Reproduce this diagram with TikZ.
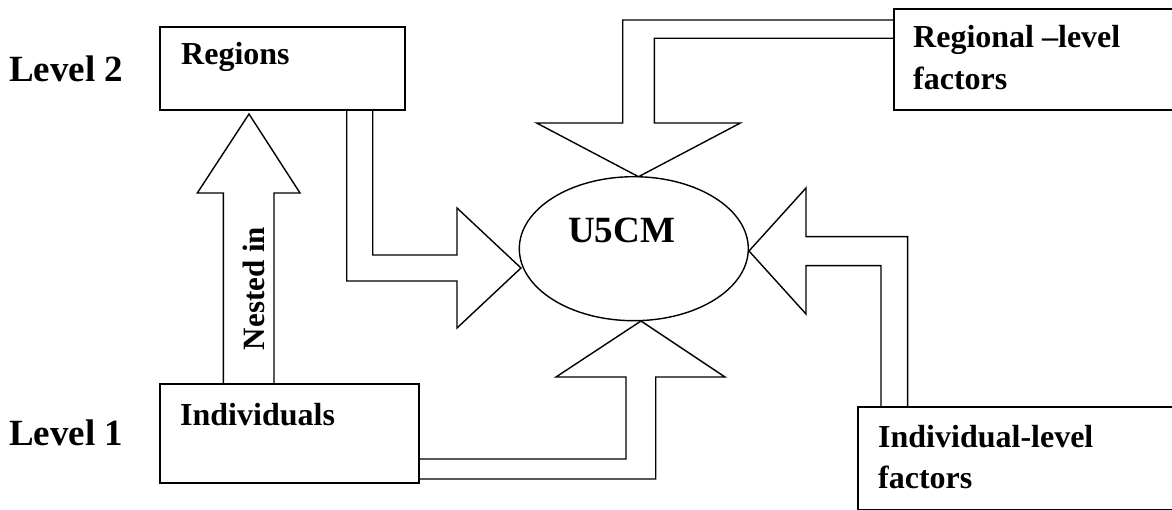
\documentclass[tikz,border=0pt]{standalone}
\usepackage{fontspec}
\setmainfont{Liberation Serif}
\usetikzlibrary{shapes.geometric}
\begin{document}
\begin{tikzpicture}[x=1pt,y=-1pt,
  boxline/.style={draw=black, line width=1.9pt, inner sep=0pt, anchor=north west},
  blockarrow/.style={draw=black, line width=1.4pt, line join=miter},
  lbl/.style={inner sep=0pt, font=\fontsize{32}{36}\selectfont\bfseries, anchor=base west},
  biglbl/.style={inner sep=0pt, font=\fontsize{37}{42}\selectfont\bfseries, anchor=base west}]
\useasboundingbox (0,0) rectangle (1172,510);
% boxes
\node[boxline, minimum width=245pt, minimum height=83pt] (regions) at (159,26) {};
\node[boxline, minimum width=259pt, minimum height=99pt] (indiv) at (159,383) {};
\node[boxline, minimum width=290pt, minimum height=101pt] (regfac) at (893,7.7) {};
\node[boxline, minimum width=320pt, minimum height=103pt] (indfac) at (857,406) {};
% ellipse
\node[draw=black, ellipse, line width=1.4pt, inner sep=0pt, minimum width=229pt, minimum height=144pt] (u5cm) at (633.8,248.7) {};
% texts
\node[biglbl] (lev2) at (9,81.7) {Level 2};
\node[biglbl] (lev1) at (9,445) {Level 1};
\node[lbl] (regionsT) at (181,65) {Regions};
\node[lbl] (indivT) at (180,425) {Individuals};
\node[lbl] (regfacT1) at (913,48) {Regional –level};
\node[lbl] (regfacT2) at (913,90) {factors};
\node[lbl] (indfacT1) at (878,447) {Individual-level};
\node[lbl] (indfacT2) at (878,488) {factors};
\node[biglbl] (u5cmT) at (568,242.7) {U5CM};
% block arrows
% Regions -> U5CM
\draw[blockarrow] (346.7,109) -- (346.7,281) -- (457,281) -- (457,328) -- (521,268)
  -- (457,208) -- (457,255) -- (372.7,255) -- (372.7,109);
% Regional-level factors -> U5CM
\draw[blockarrow] (893,20) -- (622.7,20) -- (622.7,123) -- (536.6,123) -- (638.5,176.7)
  -- (740.4,123) -- (654.3,123) -- (654.3,38.3) -- (893,38.3);
% Individual-level factors -> U5CM
\draw[blockarrow] (907.6,406) -- (907.6,236.7) -- (806,236.7) -- (806,188) -- (749,251)
  -- (806,314) -- (806,265.7) -- (881,265.7) -- (881,406);
% Individuals -> U5CM
\draw[blockarrow] (418,479) -- (655.7,479) -- (655.7,377) -- (725,377) -- (641,321)
  -- (556,377) -- (626,377) -- (626,459) -- (418,459);
% Nested in
\draw[blockarrow] (223.3,383) -- (223.3,193) -- (197.3,193) -- (249,114) -- (300,193)
  -- (274,193) -- (274,383);
\node[inner sep=0pt, font=\fontsize{31}{36}\selectfont\bfseries, rotate=90, anchor=base] (nested) at (264,288.5) {Nested in};
\end{tikzpicture}
\end{document}
